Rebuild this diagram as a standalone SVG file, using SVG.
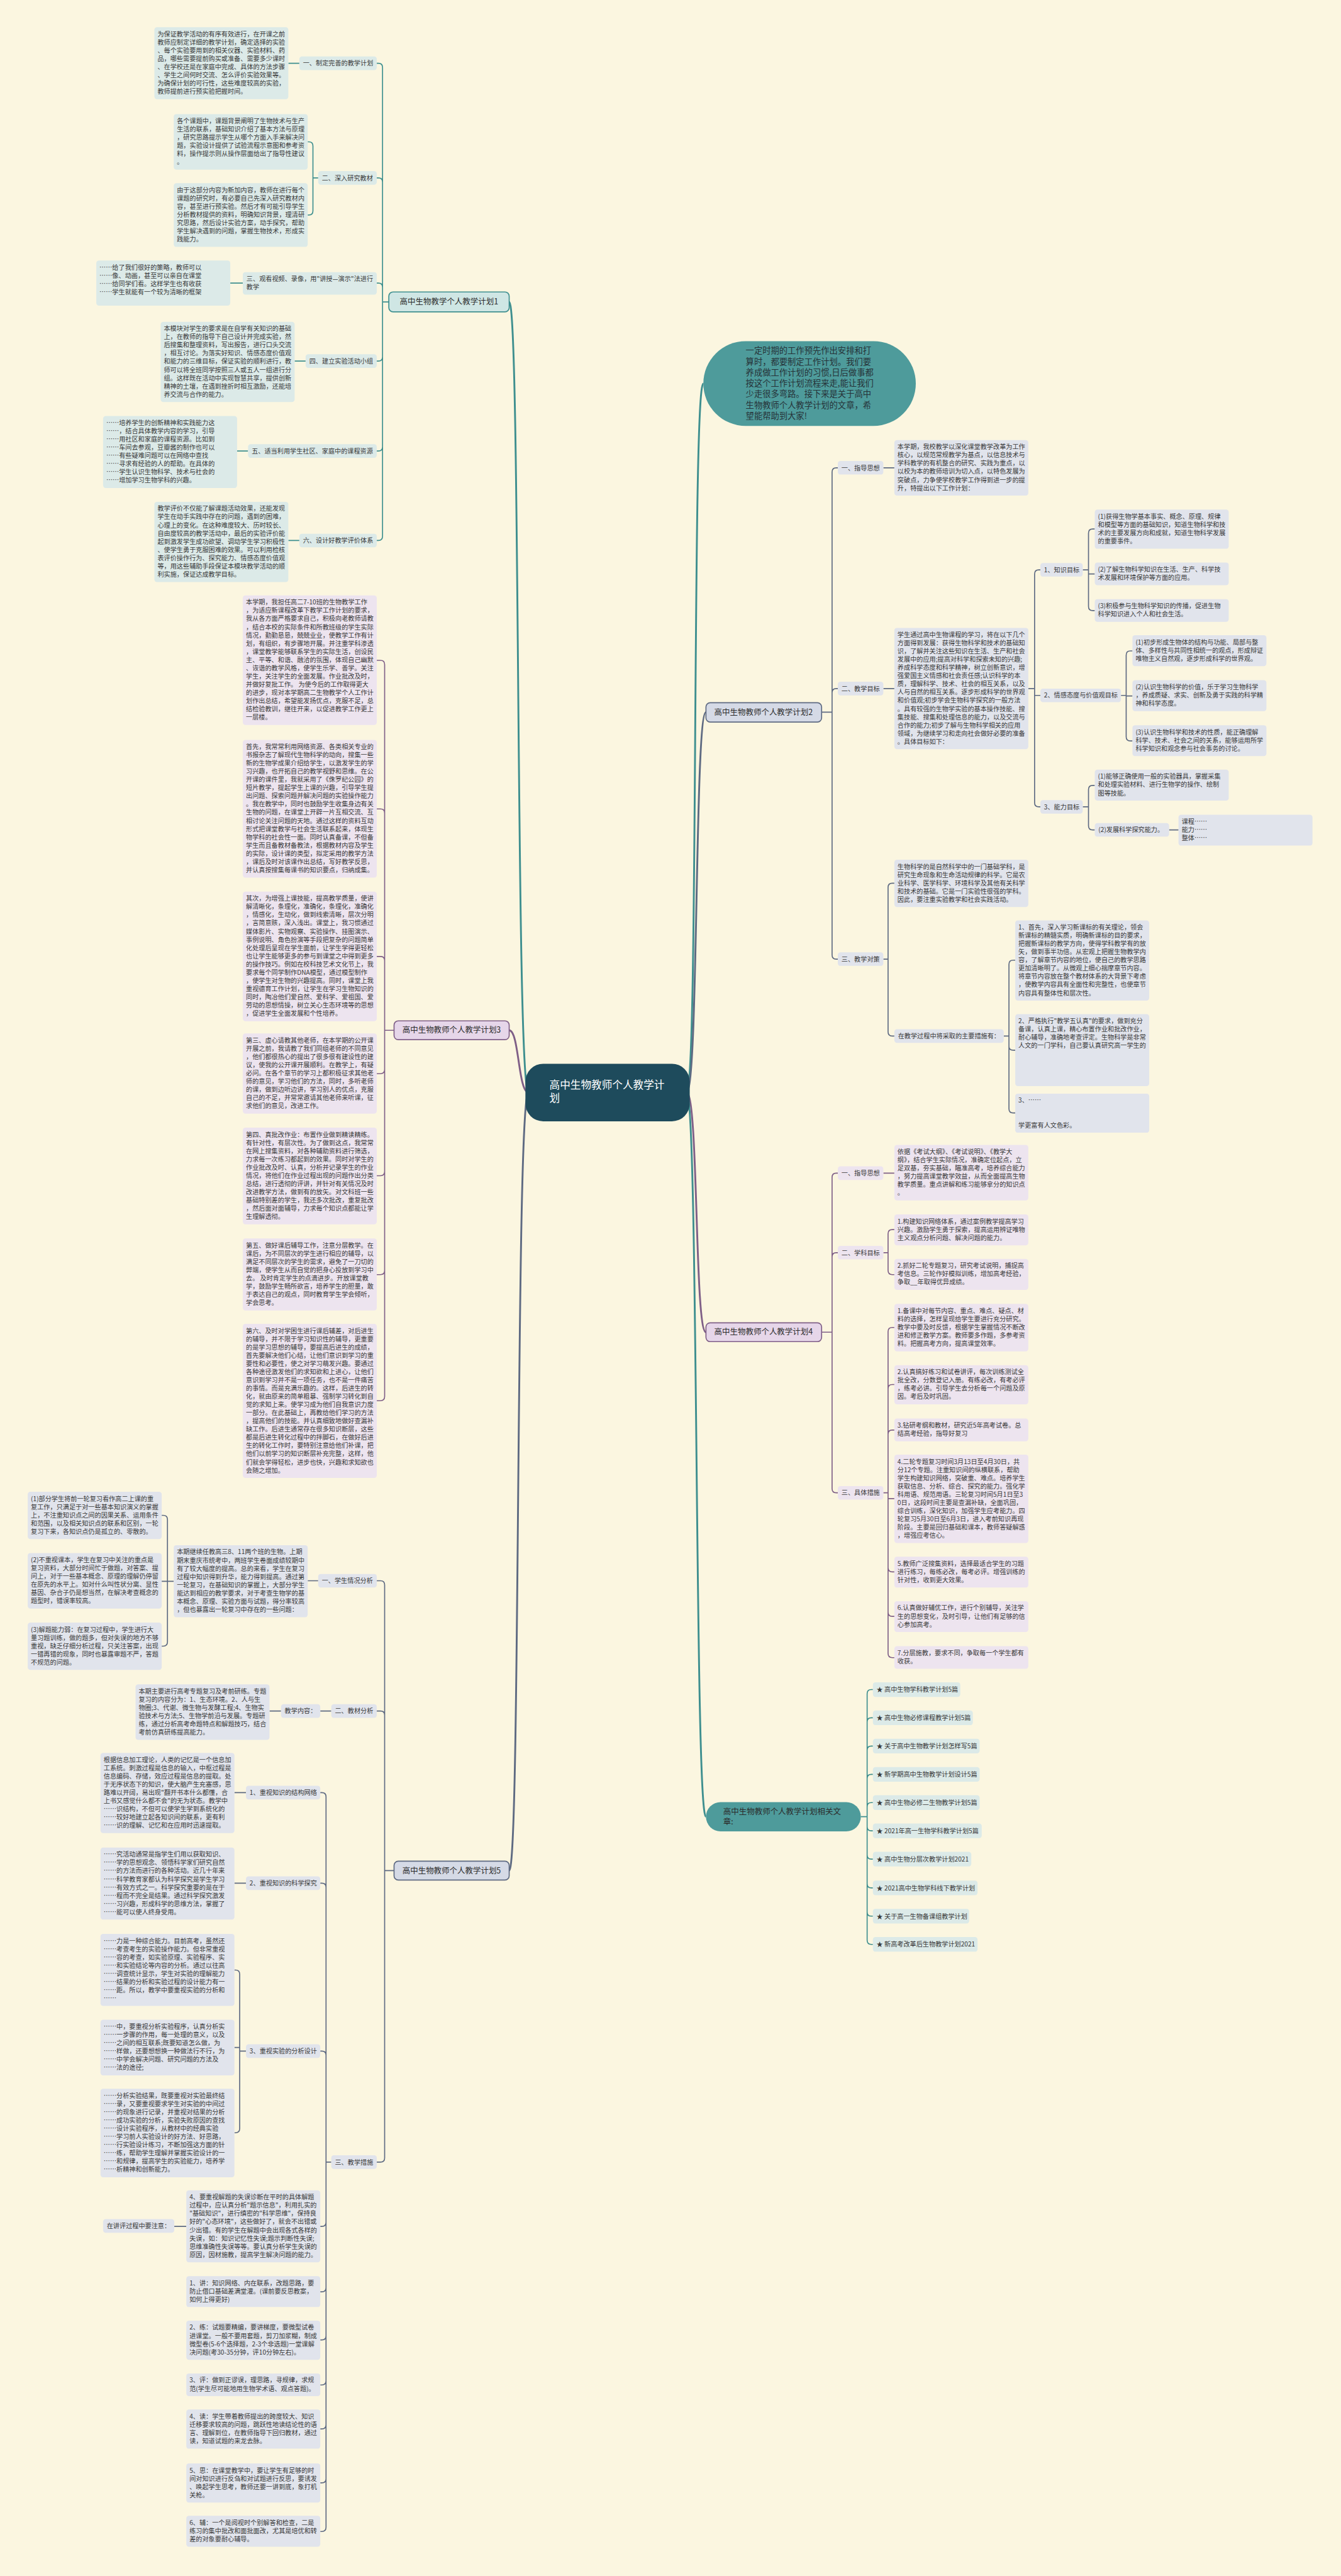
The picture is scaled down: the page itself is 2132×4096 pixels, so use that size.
<svg xmlns="http://www.w3.org/2000/svg" width="2132" height="4096" viewBox="0 0 2132 4096">
<style>
.t{font-family:"Noto Sans CJK SC","Liberation Sans",sans-serif;font-size:12.2px;fill:#383838}
.n{font-family:"Noto Sans CJK SC","Liberation Sans",sans-serif;font-size:15px;fill:#2c2c2c}
.bt{fill:#DCEAE8}.bs{fill:#E1E4EC}.bp{fill:#EDE4EF}
.ct{fill:none;stroke:#3E8F8F;stroke-width:2}
.cs{fill:none;stroke:#5E6A82;stroke-width:2}
.cp{fill:none;stroke:#7F5F87;stroke-width:2}
.m{stroke-width:3.5}
</style>
<rect width="2132" height="4096" fill="#FBF6E0"/>
<g transform="scale(0.832)">
<g id="connectors">
<path class="ct m" d="M1010 2088 C985 2088 995 577 973 577"/>
<path class="cp m" d="M1010 2088 C990 2088 992 1969 973 1969"/>
<path class="cs m" d="M1010 2088 C985 2088 995 3575 973 3575"/>
<path class="ct m" d="M1312 2088 C1335 2088 1322 733 1344 733"/>
<path class="cs m" d="M1312 2088 C1335 2088 1327 1361 1349 1361"/>
<path class="cp m" d="M1312 2088 C1335 2088 1327 2546 1349 2546"/>
<path class="ct m" d="M1312 2088 C1335 2088 1327 3472 1349 3472"/>
<path class="ct" d="M743 577H731V129Q731 121 723 121H720M731 577V348Q731 340 723 340H720M731 577V549Q731 541 723 541H720M731 577V682Q731 690 723 690H720M731 577V854Q731 862 723 862H720M731 577V1025Q731 1033 723 1033H720"/>
<path class="ct" d="M572 121H551M608 340H598V279Q598 271 590 271H588M598 340V403Q598 411 590 411H588M464 541H440M584 690H563M474 862H453M572 1033H551"/>
<path class="cp" d="M753 1969H735V1270Q735 1262 727 1262H720M735 1969V1554Q735 1546 727 1546H720M735 1969V1836Q735 1828 727 1828H720M735 1969V2044Q735 2052 727 2052H720M735 1969V2239Q735 2247 727 2247H720M735 1969V2428Q735 2436 727 2436H720M735 1969V2669Q735 2677 727 2677H720"/>
<path class="cs" d="M753 3575H735V3029Q735 3021 727 3021H720M735 3575V3278Q735 3270 727 3270H720M735 3575V4124Q735 4132 727 4132H720"/>
<path class="cs" d="M608 3021H588M332 3022H320V2904Q320 2896 312 2896H309M320 3022H309M320 3022V3138Q320 3146 312 3146H309M633 3270H612M537 3270H515"/>
<path class="cs" d="M633 4132H623V3434Q623 3426 615 3426H612M623 4132V3607Q623 3599 615 3599H612M623 4132V3928Q623 3920 615 3920H612M623 4132V4247Q623 4255 615 4255H612M623 4132V4372Q623 4380 615 4380H612M623 4132V4464Q623 4472 615 4472H612M623 4132V4550Q623 4558 615 4558H612M623 4132V4634Q623 4642 615 4642H612M623 4132V4737Q623 4745 615 4745H612M623 4132V4830Q623 4838 615 4838H612"/>
<path class="cs" d="M470 3426H448M470 3599H448M470 3920H458V3773Q458 3765 450 3765H448M458 3920V3913H448M458 3920V4068Q458 4076 450 4076H448M356 4255H333"/>
<path class="cs" d="M1570 1361H1590V902Q1590 894 1598 894H1601M1590 1361V1324Q1590 1316 1598 1316H1601M1590 1361V1825Q1590 1833 1598 1833H1601"/>
<path class="cs" d="M1688 894H1709M1688 1316H1709M1965 1316H1977V1097Q1977 1089 1985 1089H1988M1977 1316V1329H1988M1977 1316V1534Q1977 1542 1985 1542H1988"/>
<path class="cs" d="M2069 1089H2080V1019Q2080 1011 2088 1011H2092M2080 1089V1097H2092M2080 1089V1159Q2080 1167 2088 1167H2092M2142 1329H2152V1252Q2152 1244 2160 1244H2164M2152 1329V1330H2164M2152 1329V1408Q2152 1416 2160 1416H2164M2069 1542H2080V1509Q2080 1501 2088 1501H2092M2080 1542V1578Q2080 1586 2088 1586H2092M2234 1586H2252"/>
<path class="cs" d="M1688 1833H1697V1696Q1697 1688 1705 1688H1709M1697 1833V1972Q1697 1980 1705 1980H1709M1918 1980H1928V1843Q1928 1835 1936 1835H1940M1928 1980V2000Q1928 2007 1936 2007H1940M1928 1980V2119Q1928 2127 1936 2127H1940"/>
<path class="cp" d="M1570 2546H1590V2250Q1590 2242 1598 2242H1601M1590 2546V2402Q1590 2394 1598 2394H1601M1590 2546V2845Q1590 2853 1598 2853H1601"/>
<path class="cp" d="M1688 2242H1709M1688 2394H1697V2358Q1697 2350 1705 2350H1709M1697 2394V2428Q1697 2436 1705 2436H1709M1688 2853H1697V2545Q1697 2537 1705 2537H1709M1697 2853V2654Q1697 2646 1705 2646H1709M1697 2853V2741Q1697 2733 1705 2733H1709M1697 2853V2864H1709M1697 2853V2996Q1697 3004 1705 3004H1709M1697 2853V3081Q1697 3089 1705 3089H1709M1697 2853V3160Q1697 3168 1705 3168H1709"/>
<path class="ct" d="M1645 3472H1657V3237Q1657 3229 1665 3229H1668M1657 3472V3291Q1657 3283 1665 3283H1668M1657 3472V3345Q1657 3337 1665 3337H1668M1657 3472V3399Q1657 3391 1665 3391H1668M1657 3472V3453Q1657 3445 1665 3445H1668M1657 3472V3491Q1657 3499 1665 3499H1668M1657 3472V3545Q1657 3553 1665 3553H1668M1657 3472V3600Q1657 3608 1665 3608H1668M1657 3472V3654Q1657 3662 1665 3662H1668M1657 3472V3708Q1657 3716 1665 3716H1668"/>
</g>

<g id="center">
<rect x="1004" y="2033" width="314" height="110" rx="34" fill="#1E4B5C"/>
<text font-family="Noto Sans CJK SC,Liberation Sans,sans-serif" font-size="20" fill="#ffffff" x="1050" y="2080">高中生物教师个人教学计<tspan x="1050" dy="26">划</tspan></text>
</g>

<g id="intro">
<rect x="1344" y="652" width="406" height="162" rx="81" fill="#4E9B9B"/>
<text font-family="Noto Sans CJK SC,Liberation Sans,sans-serif" font-size="16" fill="#263238" y="676"><tspan x="1425">一定时期的工作预先作出安排和打</tspan><tspan x="1425" dy="20.7">算时，都要制定工作计划。我们要</tspan><tspan x="1425" dy="20.7">养成做工作计划的习惯,日后做事都</tspan><tspan x="1425" dy="20.7">按这个工作计划流程来走,能让我们</tspan><tspan x="1425" dy="20.7">少走很多弯路。接下来是关于高中</tspan><tspan x="1425" dy="20.7">生物教师个人教学计划的文章，希</tspan><tspan x="1425" dy="20.7">望能帮助到大家!</tspan></text>
</g>

<g id="plan1">
<rect x="743" y="558" width="230" height="38" rx="8" fill="#CFE6E4" stroke="#3E8F8F" stroke-width="2"/>
<text class="n" x="858" y="582" text-anchor="middle">高中生物教学个人教学计划1</text>
<rect class="bt" x="572" y="108" width="148" height="26" rx="5"/><text class="t" x="579" y="125.5">一、制定完善的教学计划</text>
<rect class="bt" x="295" y="52" width="256" height="137.6" rx="5"/>
<text class="t" y="69.5"><tspan x="301">为保证教学活动的有序有效进行，在开课之前</tspan><tspan x="301" dy="15.7">教师应制定详细的教学计划，确定选择的实验</tspan><tspan x="301" dy="15.7">、每个实验要用到的相关仪器、实验材料、药</tspan><tspan x="301" dy="15.7">品，哪些需要提前购买或准备、需要多少课时</tspan><tspan x="301" dy="15.7">、在学校还是在家庭中完成、具体的方法步骤</tspan><tspan x="301" dy="15.7">、学生之间何时交流、怎么评价实验效果等。</tspan><tspan x="301" dy="15.7">为确保计划的可行性，这些难度较高的实验，</tspan><tspan x="301" dy="15.7">教师提前进行预实验把握时间。</tspan></text>
<rect class="bt" x="608" y="327" width="112" height="26" rx="5"/><text class="t" x="615" y="344.5">二、深入研究教材</text>
<rect class="bt" x="332" y="218" width="256" height="106.2" rx="5"/>
<text class="t" y="235.5"><tspan x="338">各个课题中，课题背景阐明了生物技术与生产</tspan><tspan x="338" dy="15.7">生活的联系，基础知识介绍了基本方法与原理</tspan><tspan x="338" dy="15.7">，研究思路提示学生从哪个方面入手来解决问</tspan><tspan x="338" dy="15.7">题，实验设计提供了试验流程示意图和参考资</tspan><tspan x="338" dy="15.7">料，操作提示则从操作层面给出了指导性建议</tspan><tspan x="338" dy="15.7">。</tspan></text>
<rect class="bt" x="332" y="350" width="256" height="121.9" rx="5"/>
<text class="t" y="367.5"><tspan x="338">由于这部分内容为新加内容，教师在进行每个</tspan><tspan x="338" dy="15.7">课题的研究时，有必要自己先深入研究教材内</tspan><tspan x="338" dy="15.7">容，甚至进行预实验。然后才有可能引导学生</tspan><tspan x="338" dy="15.7">分析教材提供的资料，明确知识背景，理清研</tspan><tspan x="338" dy="15.7">究思路，然后设计实验方案，动手探究，帮助</tspan><tspan x="338" dy="15.7">学生解决遇到的问题，掌握生物技术，形成实</tspan><tspan x="338" dy="15.7">践能力。</tspan></text>
<rect class="bt" x="464" y="520" width="256" height="43" rx="5"/><text class="t" y="537"><tspan x="471">三、观看视频、录像，用"讲授—演示"法进行</tspan><tspan x="471" dy="15.7">教学</tspan></text>
<rect class="bt" x="184" y="498" width="256" height="86" rx="5"/>
<text class="t" y="515.5"><tspan x="190">……给了我们很好的策略，教师可以</tspan><tspan x="190" dy="15.7">……像、动画，甚至可以亲自在课堂</tspan><tspan x="190" dy="15.7">……给同学们看。这样学生也有收获</tspan><tspan x="190" dy="15.7">……学生就能有一个较为清晰的框架</tspan></text>
<rect class="bt" x="584" y="677" width="136" height="26" rx="5"/><text class="t" x="591" y="694.5">四、建立实验活动小组</text>
<rect class="bt" x="307" y="615" width="256" height="153.3" rx="5"/>
<text class="t" y="632.5"><tspan x="313">本模块对学生的要求是在自学有关知识的基础</tspan><tspan x="313" dy="15.7">上，在教师的指导下自己设计并完成实验，然</tspan><tspan x="313" dy="15.7">后搜集和整理资料，写出报告，进行口头交流</tspan><tspan x="313" dy="15.7">，相互讨论。为落实好知识、情感态度价值观</tspan><tspan x="313" dy="15.7">和能力的三维目标，保证实验的顺利进行，教</tspan><tspan x="313" dy="15.7">师可以将全班同学按照三人或五人一组进行分</tspan><tspan x="313" dy="15.7">组。这样既在活动中实现智慧共享，提供创新</tspan><tspan x="313" dy="15.7">精神的土壤，在遇到挫折时相互激励，还能培</tspan><tspan x="313" dy="15.7">养交流与合作的能力。</tspan></text>
<rect class="bt" x="474" y="849" width="246" height="26" rx="5"/><text class="t" x="481" y="866.5">五、适当利用学生社区、家庭中的课程资源</text>
<rect class="bt" x="197" y="795" width="256" height="137.6" rx="5"/>
<text class="t" y="812.5"><tspan x="203">……培养学生的创新精神和实践能力这</tspan><tspan x="203" dy="15.7">……，结合具体教学内容的学习，引导</tspan><tspan x="203" dy="15.7">……用社区和家庭的课程资源。比如到</tspan><tspan x="203" dy="15.7">……车间去参观，豆瓣酱的制作也可以</tspan><tspan x="203" dy="15.7">……有些疑难问题可以在网络中查找</tspan><tspan x="203" dy="15.7">……寻求有经验的人的帮助。在具体的</tspan><tspan x="203" dy="15.7">……学生认识生物科学、技术与社会的</tspan><tspan x="203" dy="15.7">……增加学习生物学科的兴趣。</tspan></text>
<rect class="bt" x="572" y="1020" width="148" height="26" rx="5"/><text class="t" x="579" y="1037.5">六、设计好教学评价体系</text>
<rect class="bt" x="295" y="959" width="256" height="153.3" rx="5"/>
<text class="t" y="976.5"><tspan x="301">教学评价不仅能了解课题活动效果，还能发现</tspan><tspan x="301" dy="15.7">学生在动手实践中存在的问题，遇到的困难，</tspan><tspan x="301" dy="15.7">心理上的变化。在这种难度较大、历时较长、</tspan><tspan x="301" dy="15.7">自由度较高的教学活动中，最后的实验评价能</tspan><tspan x="301" dy="15.7">起到激发学生成功欲望、调动学生学习积极性</tspan><tspan x="301" dy="15.7">、使学生勇于克服困难的效果。可以利用检核</tspan><tspan x="301" dy="15.7">表评价操作行为、探究能力、情感态度价值观</tspan><tspan x="301" dy="15.7">等，用这些辅助手段保证本模块教学活动的顺</tspan><tspan x="301" dy="15.7">利实施，保证达成教学目标。</tspan></text>
</g>

<g id="plan3">
<rect x="753" y="1951" width="220" height="36" rx="8" fill="#E6D6E9" stroke="#7F5F87" stroke-width="2"/>
<text class="n" x="863" y="1974" text-anchor="middle">高中生物教师个人教学计划3</text>
<rect class="bp" x="464" y="1138" width="256" height="247.5" rx="5"/>
<text class="t" y="1155.5"><tspan x="470">本学期，我担任高二7-10班的生物教学工作</tspan><tspan x="470" dy="15.7">，为适应新课程改革下教学工作计划的要求，</tspan><tspan x="470" dy="15.7">我从各方面严格要求自己，积极向老教师请教</tspan><tspan x="470" dy="15.7">，结合本校的实际条件和所教班级的学生实际</tspan><tspan x="470" dy="15.7">情况，勤勤恳恳，兢兢业业，使教学工作有计</tspan><tspan x="470" dy="15.7">划，有组织，有步骤地开展。并注重学科渗透</tspan><tspan x="470" dy="15.7">，课堂教学能够联系学生的实际生活，创设民</tspan><tspan x="470" dy="15.7">主、平等、和谐、融洽的氛围，体现自己幽默</tspan><tspan x="470" dy="15.7">、诙谐的教学风格，使学生乐学、善学。关注</tspan><tspan x="470" dy="15.7">学生，关注学生的全面发展。作业批改及时，</tspan><tspan x="470" dy="15.7">并做好复批工作。 为使今后的工作取得更大</tspan><tspan x="470" dy="15.7">的进步，现对本学期高二生物教学个人工作计</tspan><tspan x="470" dy="15.7">划作出总结，希望能发扬优点，克服不足，总</tspan><tspan x="470" dy="15.7">结检验教训，继往开来，以促进教学工作更上</tspan><tspan x="470" dy="15.7">一层楼。</tspan></text>
<rect class="bp" x="464" y="1414" width="256" height="263.2" rx="5"/>
<text class="t" y="1431.5"><tspan x="470">首先，我常常利用网络资源、各类相关专业的</tspan><tspan x="470" dy="15.7">书报杂志了解现代生物科学的动向，搜集一些</tspan><tspan x="470" dy="15.7">新的生物学成果介绍给学生，以激发学生的学</tspan><tspan x="470" dy="15.7">习兴趣，也开拓自己的教学视野和思维。在公</tspan><tspan x="470" dy="15.7">开课的课件里，我就采用了《侏罗纪公园》的</tspan><tspan x="470" dy="15.7">短片教学，提起学生上课的兴趣，引导学生提</tspan><tspan x="470" dy="15.7">出问题、探索问题并解决问题的实验操作能力</tspan><tspan x="470" dy="15.7">。我在教学中，同时也鼓励学生收集身边有关</tspan><tspan x="470" dy="15.7">生物的问题，在课堂上开辟一片互相交流、互</tspan><tspan x="470" dy="15.7">相讨论关注问题的天地。通过这样的资料互动</tspan><tspan x="470" dy="15.7">形式把课堂教学与社会生活联系起来，体现生</tspan><tspan x="470" dy="15.7">物学科的社会性一面。同时认真备课，不但备</tspan><tspan x="470" dy="15.7">学生而且备教材备教法，根据教材内容及学生</tspan><tspan x="470" dy="15.7">的实际，设计课的类型，拟定采用的教学方法</tspan><tspan x="470" dy="15.7">，课后及时对该课作出总结，写好教学反思，</tspan><tspan x="470" dy="15.7">并认真按搜集每课书的知识要点，归纳成集。</tspan></text>
<rect class="bp" x="464" y="1704" width="256" height="247.5" rx="5"/>
<text class="t" y="1721.5"><tspan x="470">其次，为增强上课技能，提高教学质量，使讲</tspan><tspan x="470" dy="15.7">解清晰化，条理化，准确化，条理化，准确化</tspan><tspan x="470" dy="15.7">，情感化，生动化，做到线索清晰，层次分明</tspan><tspan x="470" dy="15.7">，言简意赅，深入浅出。课堂上，我习惯通过</tspan><tspan x="470" dy="15.7">媒体影片、实物观察、实验操作、挂图演示、</tspan><tspan x="470" dy="15.7">事例说明、角色扮演等手段把复杂的问题简单</tspan><tspan x="470" dy="15.7">化处理后呈现在学生面前，让学生学得更轻松</tspan><tspan x="470" dy="15.7">也让学生能够更多的参与到课堂之中得到更多</tspan><tspan x="470" dy="15.7">的操作技巧。例如在校科技艺术文化节上，我</tspan><tspan x="470" dy="15.7">要求每个同学制作DNA模型，通过模型制作</tspan><tspan x="470" dy="15.7">，使学生对生物的兴趣提高。同时，课堂上我</tspan><tspan x="470" dy="15.7">重视德育工作计划，让学生在学习生物知识的</tspan><tspan x="470" dy="15.7">同时，陶冶他们爱自然、爱科学、爱祖国、爱</tspan><tspan x="470" dy="15.7">劳动的思想情操，树立关心生态环境等的思想</tspan><tspan x="470" dy="15.7">，促进学生全面发展和个性培养。</tspan></text>
<rect class="bp" x="464" y="1975" width="256" height="153.3" rx="5"/>
<text class="t" y="1992.5"><tspan x="470">第三、虚心请教其他老师，在本学期的公开课</tspan><tspan x="470" dy="15.7">开展之前，我请教了我们同组老师的不同意见</tspan><tspan x="470" dy="15.7">，他们都很热心的提出了很多很有建设性的建</tspan><tspan x="470" dy="15.7">议，使我的公开课开展顺利。在教学上，有疑</tspan><tspan x="470" dy="15.7">必问。在各个章节的学习上都积极征求其他老</tspan><tspan x="470" dy="15.7">师的意见，学习他们的方法，同时，多听老师</tspan><tspan x="470" dy="15.7">的课，做到边听边讲，学习别人的优点，克服</tspan><tspan x="470" dy="15.7">自己的不足，并常常邀请其他老师来听课，征</tspan><tspan x="470" dy="15.7">求他们的意见，改进工作。</tspan></text>
<rect class="bp" x="464" y="2155" width="256" height="184.7" rx="5"/>
<text class="t" y="2172.5"><tspan x="470">第四、真批改作业：布置作业做到精读精练。</tspan><tspan x="470" dy="15.7">有针对性，有层次性。为了做到这点，我常常</tspan><tspan x="470" dy="15.7">在网上搜集资料，对各种辅助资料进行筛选，</tspan><tspan x="470" dy="15.7">力求每一次练习都起到的效果。同时对学生的</tspan><tspan x="470" dy="15.7">作业批改及时、认真，分析并记录学生的作业</tspan><tspan x="470" dy="15.7">情况，将他们在作业过程出现的问题作出分类</tspan><tspan x="470" dy="15.7">总结，进行透彻的评讲，并针对有关情况及时</tspan><tspan x="470" dy="15.7">改进教学方法，做到有的放矢。对文科班一些</tspan><tspan x="470" dy="15.7">基础特别差的学生，我还多次批改，重复批改</tspan><tspan x="470" dy="15.7">，然后面对面辅导，力求每个知识点都能让学</tspan><tspan x="470" dy="15.7">生理解透彻。</tspan></text>
<rect class="bp" x="464" y="2367" width="256" height="137.6" rx="5"/>
<text class="t" y="2384.5"><tspan x="470">第五、做好课后辅导工作，注意分层教学。在</tspan><tspan x="470" dy="15.7">课后，为不同层次的学生进行相应的辅导，以</tspan><tspan x="470" dy="15.7">满足不同层次的学生的需求，避免了一刀切的</tspan><tspan x="470" dy="15.7">弊端，使学生从而自觉的把身心投放到学习中</tspan><tspan x="470" dy="15.7">去。 及时肯定学生的点滴进步。开放课堂教</tspan><tspan x="470" dy="15.7">学，鼓励学生畅所欲言，培养学生的胆量，敢</tspan><tspan x="470" dy="15.7">于表达自己的观点，同时教育学生学会倾听，</tspan><tspan x="470" dy="15.7">学会思考。</tspan></text>
<rect class="bp" x="464" y="2530" width="256" height="294.6" rx="5"/>
<text class="t" y="2547.5"><tspan x="470">第六、及时对学困生进行课后辅差，对后进生</tspan><tspan x="470" dy="15.7">的辅导，并不限于学习知识性的辅导，更重要</tspan><tspan x="470" dy="15.7">的是学习思想的辅导，要提高后进生的成绩，</tspan><tspan x="470" dy="15.7">首先要解决他们心结，让他们意识到学习的重</tspan><tspan x="470" dy="15.7">要性和必要性，使之对学习萌发兴趣。要通过</tspan><tspan x="470" dy="15.7">各种途径激发他们的求知欲和上进心，让他们</tspan><tspan x="470" dy="15.7">意识到学习并不是一项任务，也不是一件痛苦</tspan><tspan x="470" dy="15.7">的事情。而是充满乐趣的。这样，后进生的转</tspan><tspan x="470" dy="15.7">化，就由原来的简单粗暴、强制学习转化到自</tspan><tspan x="470" dy="15.7">觉的求知上来。使学习成为他们自我意识力度</tspan><tspan x="470" dy="15.7">一部分。在此基础上，再教给他们学习的方法</tspan><tspan x="470" dy="15.7">，提高他们的技能。并认真细致地做好查漏补</tspan><tspan x="470" dy="15.7">缺工作。后进生通常存在很多知识断层，这些</tspan><tspan x="470" dy="15.7">都是后进生转化过程中的拌脚石，在做好后进</tspan><tspan x="470" dy="15.7">生的转化工作时，要特别注意给他们补课，把</tspan><tspan x="470" dy="15.7">他们以前学习的知识断层补充完整，这样，他</tspan><tspan x="470" dy="15.7">们就会学得轻松，进步也快，兴趣和求知欲也</tspan><tspan x="470" dy="15.7">会随之增加。</tspan></text>
</g>

<g id="plan5">
<rect x="753" y="3557" width="220" height="36" rx="8" fill="#D5DAE6" stroke="#5E6A82" stroke-width="2"/>
<text class="n" x="863" y="3580" text-anchor="middle">高中生物教师个人教学计划5</text>
<rect class="bs" x="608" y="3008" width="112" height="26" rx="5"/><text class="t" x="615" y="3025.5">一、学生情况分析</text>
<rect class="bs" x="332" y="2953" width="256" height="137.6" rx="5"/>
<text class="t" y="2970.5"><tspan x="338">本期继续任教高三8、11两个班的生物。上期</tspan><tspan x="338" dy="15.7">期末重庆市统考中，两班学生卷面成绩较期中</tspan><tspan x="338" dy="15.7">有了较大幅度的提高。总的来看，学生在复习</tspan><tspan x="338" dy="15.7">过程中知识得到升华，能力得到提高。通过第</tspan><tspan x="338" dy="15.7">一轮复习，在基础知识的掌握上，大部分学生</tspan><tspan x="338" dy="15.7">能达到相应的教学要求，对于考查生物学的基</tspan><tspan x="338" dy="15.7">本概念、原理、实验方面与试题，得分率较高</tspan><tspan x="338" dy="15.7">，但也暴露出一轮复习中存在的一些问题：</tspan></text>
<rect class="bs" x="53" y="2851" width="256" height="90.5" rx="5"/>
<text class="t" y="2868.5"><tspan x="59">(1)部分学生将前一轮复习看作高二上课的重</tspan><tspan x="59" dy="15.7">复工作，只满足于对一些基本知识演义的掌握</tspan><tspan x="59" dy="15.7">上，不注重知识点之间的因果关系、运用条件</tspan><tspan x="59" dy="15.7">和范围，以及相关知识点的联系和区别，一轮</tspan><tspan x="59" dy="15.7">复习下来，各知识点仍是孤立的、零散的。</tspan></text>
<rect class="bs" x="53" y="2968" width="256" height="106.2" rx="5"/>
<text class="t" y="2985.5"><tspan x="59">(2)不重视课本，学生在复习中关注的重点是</tspan><tspan x="59" dy="15.7">复习资料，大部分时间忙于做题，对答案、提</tspan><tspan x="59" dy="15.7">问上，对于一些基本概念、原理的理解仍停留</tspan><tspan x="59" dy="15.7">在原先的水平上。如对什么叫性状分离、显性</tspan><tspan x="59" dy="15.7">基因、杂合子仍是想当然，在解决考查概念的</tspan><tspan x="59" dy="15.7">题型时，错误率较高。</tspan></text>
<rect class="bs" x="53" y="3101" width="256" height="90.5" rx="5"/>
<text class="t" y="3118.5"><tspan x="59">(3)解题能力弱：在复习过程中，学生进行大</tspan><tspan x="59" dy="15.7">量习题训练，做的题多，但对失误的地方不够</tspan><tspan x="59" dy="15.7">重视，缺乏仔细分析过程，只关注答案，出现</tspan><tspan x="59" dy="15.7">一错再错的现象，同时也暴露审题不严，答题</tspan><tspan x="59" dy="15.7">不规范的问题。</tspan></text>
<rect class="bs" x="633" y="3257" width="87" height="26" rx="5"/><text class="t" x="640" y="3274.5">二、教材分析</text>
<rect class="bs" x="537" y="3257" width="75" height="26" rx="5"/><text class="t" x="544" y="3274.5">教学内容：</text>
<rect class="bs" x="259" y="3219" width="256" height="106.2" rx="5"/>
<text class="t" y="3236.5"><tspan x="265">本期主要进行高考专题复习及考前研练。专题</tspan><tspan x="265" dy="15.7">复习的内容分为：1、生态环境。2、人与生</tspan><tspan x="265" dy="15.7">物圈;3、代谢、微生物与发酵工程;4、生物实</tspan><tspan x="265" dy="15.7">验技术与方法;5、生物学前沿与发展。专题研</tspan><tspan x="265" dy="15.7">练，通过分析高考命题特点和解题技巧，结合</tspan><tspan x="265" dy="15.7">考前仿真研练提高能力。</tspan></text>
<rect class="bs" x="633" y="4119" width="87" height="26" rx="5"/><text class="t" x="640" y="4136.5">三、教学措施</text>
<rect class="bs" x="470" y="3413" width="142" height="26" rx="5"/><text class="t" x="477" y="3430.5">1、重视知识的结构网络</text>
<rect class="bs" x="192" y="3350" width="256" height="153.3" rx="5"/>
<text class="t" y="3367.5"><tspan x="198">根据信息加工理论，人类的记忆是一个信息加</tspan><tspan x="198" dy="15.7">工系统。刺激过程是信息的输入，中枢过程是</tspan><tspan x="198" dy="15.7">信息编码、存储，效应过程是信息的提取。处</tspan><tspan x="198" dy="15.7">于无序状态下的知识，使大脑产生充塞感，思</tspan><tspan x="198" dy="15.7">路难以开阔，易出现"翻开书本什么都懂，合</tspan><tspan x="198" dy="15.7">上书又感觉什么都不会"的无为状态。教学中</tspan><tspan x="198" dy="15.7">……识结构，不但可以使学生学到系统化的</tspan><tspan x="198" dy="15.7">……较好地建立起各知识间的联系，更有利</tspan><tspan x="198" dy="15.7">……识的理解、记忆和在应用时迅速提取。</tspan></text>
<rect class="bs" x="470" y="3586" width="142" height="26" rx="5"/><text class="t" x="477" y="3603.5">2、重视知识的科学探究</text>
<rect class="bs" x="192" y="3531" width="256" height="137.6" rx="5"/>
<text class="t" y="3548.5"><tspan x="198">……究活动通常是指学生们用以获取知识、</tspan><tspan x="198" dy="15.7">……学的思想观念、领悟科学家们研究自然</tspan><tspan x="198" dy="15.7">……的方法而进行的各种活动。近几十年来</tspan><tspan x="198" dy="15.7">……科学教育家都认为科学探究是学生学习</tspan><tspan x="198" dy="15.7">……有效方式之一。科学探究重要的是在于</tspan><tspan x="198" dy="15.7">……程而不完全是结果。通过科学探究激发</tspan><tspan x="198" dy="15.7">……习兴趣，形成科学的思维方法，掌握了</tspan><tspan x="198" dy="15.7">……能可以使人终身受用。</tspan></text>
<rect class="bs" x="470" y="3907" width="142" height="26" rx="5"/><text class="t" x="477" y="3924.5">3、重视实验的分析设计</text>
<rect class="bs" x="192" y="3696" width="256" height="137.6" rx="5"/>
<text class="t" y="3713.5"><tspan x="198">……力是一种综合能力。目前高考，虽然还</tspan><tspan x="198" dy="15.7">……考查考生的实验操作能力。但非常重视</tspan><tspan x="198" dy="15.7">……容的考查，如实验原理、实验程序、实</tspan><tspan x="198" dy="15.7">……和实验结论等内容的分析。通过以往高</tspan><tspan x="198" dy="15.7">……调查统计显示，学生对实验的理解能力</tspan><tspan x="198" dy="15.7">……结果的分析和实验过程的设计能力有一</tspan><tspan x="198" dy="15.7">……距。所以，教学中要重视实验的分析和</tspan><tspan x="198" dy="15.7">……</tspan></text>
<rect class="bs" x="192" y="3860" width="256" height="106.2" rx="5"/>
<text class="t" y="3877.5"><tspan x="198">……中，要重视分析实验程序，认真分析实</tspan><tspan x="198" dy="15.7">……一步骤的作用，每一处理的意义，以及</tspan><tspan x="198" dy="15.7">……之间的相互联系;既要知道怎么做，为</tspan><tspan x="198" dy="15.7">……样做，还要想想换一种做法行不行，为</tspan><tspan x="198" dy="15.7">……中学会解决问题、研究问题的方法及</tspan><tspan x="198" dy="15.7">……法的途径;</tspan></text>
<rect class="bs" x="192" y="3992" width="256" height="169" rx="5"/>
<text class="t" y="4009.5"><tspan x="198">……分析实验结果，既要重视对实验最终结</tspan><tspan x="198" dy="15.7">……录，又要重视要求学生对实验的中间过</tspan><tspan x="198" dy="15.7">……的现象进行记录，并重视对结果的分析</tspan><tspan x="198" dy="15.7">……成功实验的分析，实验失败原因的查找</tspan><tspan x="198" dy="15.7">……设计实验程序，从教材中的经典实验</tspan><tspan x="198" dy="15.7">……学习前人实验设计的好方法、好思路，</tspan><tspan x="198" dy="15.7">……行实验设计练习，不断加强这方面的针</tspan><tspan x="198" dy="15.7">……练，帮助学生理解并掌握实验设计的一</tspan><tspan x="198" dy="15.7">……和规律，提高学生的实验能力，培养学</tspan><tspan x="198" dy="15.7">……析精神和创新能力。</tspan></text>
<rect class="bs" x="356" y="4186" width="256" height="137.6" rx="5"/>
<text class="t" y="4203.5"><tspan x="362">4、要重视解题的失误诊断在平时的具体解题</tspan><tspan x="362" dy="15.7">过程中，应认真分析"题示信息"，利用扎实的</tspan><tspan x="362" dy="15.7">"基础知识"，进行缜密的"科学思维"，保持良</tspan><tspan x="362" dy="15.7">好的"心态环境"，这些做好了，就会不出错或</tspan><tspan x="362" dy="15.7">少出错。有的学生在解题中会出现各式各样的</tspan><tspan x="362" dy="15.7">失误，如：知识记忆性失误;题示判断性失误;</tspan><tspan x="362" dy="15.7">思维准确性失误等等。要认真分析学生失误的</tspan><tspan x="362" dy="15.7">原因，因材施教，提高学生解决问题的能力。</tspan></text>
<rect class="bs" x="197" y="4241" width="136" height="26" rx="5"/><text class="t" x="204" y="4258.5">在讲评过程中要注意：</text>
<rect class="bs" x="356" y="4350" width="256" height="59.1" rx="5"/>
<text class="t" y="4367.5"><tspan x="362">1、讲：知识网络、内在联系，改题思路，要</tspan><tspan x="362" dy="15.7">防止借口基础差满堂灌。(课前要反思教案，</tspan><tspan x="362" dy="15.7">如何上得更好)</tspan></text>
<rect class="bs" x="356" y="4435" width="256" height="74.8" rx="5"/>
<text class="t" y="4452.5"><tspan x="362">2、练：试题要精编，要讲梯度，要微型试卷</tspan><tspan x="362" dy="15.7">进课堂。一般不要用套题，剪刀加浆糊，制成</tspan><tspan x="362" dy="15.7">微型卷(5-6个选择题，2-3个非选题)一堂课解</tspan><tspan x="362" dy="15.7">决问题(考30-35分钟，评10分钟左右)。</tspan></text>
<rect class="bs" x="356" y="4536" width="256" height="43.4" rx="5"/>
<text class="t" y="4553.5"><tspan x="362">3、评：做到正谬误，理思路，寻规律，求规</tspan><tspan x="362" dy="15.7">范(学生尽可能地用生物学术语、观点答题)。</tspan></text>
<rect class="bs" x="356" y="4605" width="256" height="74.8" rx="5"/>
<text class="t" y="4622.5"><tspan x="362">4、读：学生带着教师提出的跨度较大、知识</tspan><tspan x="362" dy="15.7">迁移要求较高的问题，跳跃性地读结论性的语</tspan><tspan x="362" dy="15.7">言、理解到位，在教师指导下回归教材，通过</tspan><tspan x="362" dy="15.7">读，知道试题的来龙去脉。</tspan></text>
<rect class="bs" x="356" y="4708" width="256" height="74.8" rx="5"/>
<text class="t" y="4725.5"><tspan x="362">5、思：在课堂教学中，要让学生有足够的时</tspan><tspan x="362" dy="15.7">间对知识进行反刍和对试题进行反思，要诱发</tspan><tspan x="362" dy="15.7">、唤起学生思考，教师还要一讲到底，象打机</tspan><tspan x="362" dy="15.7">关枪。</tspan></text>
<rect class="bs" x="356" y="4808" width="256" height="59.1" rx="5"/>
<text class="t" y="4825.5"><tspan x="362">6、辅：一个是阅视时个别解答和检查，二是</tspan><tspan x="362" dy="15.7">练习的集中批改和面批面改，尤其是培优和转</tspan><tspan x="362" dy="15.7">差的对象要耐心辅导。</tspan></text>
</g>

<g id="plan2">
<rect x="1349" y="1343" width="221" height="37" rx="8" fill="#D5DAE6" stroke="#5E6A82" stroke-width="2"/>
<text class="n" x="1459" y="1367" text-anchor="middle">高中生物教师个人教学计划2</text>
<rect class="bs" x="1601" y="881" width="87" height="26" rx="5"/><text class="t" x="1608" y="898.5">一、指导思想</text>
<rect class="bs" x="1709" y="841" width="256" height="106.2" rx="5"/>
<text class="t" y="858.5"><tspan x="1715">本学期，我校教学以深化课堂教学改革为工作</tspan><tspan x="1715" dy="15.7">核心，以规范常规教学为基点，以信息技术与</tspan><tspan x="1715" dy="15.7">学科教学的有机整合的研究、实践为重点，以</tspan><tspan x="1715" dy="15.7">以校为本的教师培训为切入点，以特色发展为</tspan><tspan x="1715" dy="15.7">突破点，力争使学校教学工作得到进一步的提</tspan><tspan x="1715" dy="15.7">升，特提出以下工作计划：</tspan></text>
<rect class="bs" x="1601" y="1303" width="87" height="26" rx="5"/><text class="t" x="1608" y="1320.5">二、教学目标</text>
<rect class="bs" x="1709" y="1200" width="256" height="231.8" rx="5"/>
<text class="t" y="1217.5"><tspan x="1715">学生通过高中生物课程的学习，将在以下几个</tspan><tspan x="1715" dy="15.7">方面得到发展：获得生物科学和技术的基础知</tspan><tspan x="1715" dy="15.7">识，了解并关注这些知识在生活、生产和社会</tspan><tspan x="1715" dy="15.7">发展中的应用;提高对科学和探索未知的兴趣;</tspan><tspan x="1715" dy="15.7">养成科学态度和科学精神，树立创新意识，增</tspan><tspan x="1715" dy="15.7">强爱国主义情感和社会责任感;认识科学的本</tspan><tspan x="1715" dy="15.7">质，理解科学、技术、社会的相互关系，以及</tspan><tspan x="1715" dy="15.7">人与自然的相互关系。逐步形成科学的世界观</tspan><tspan x="1715" dy="15.7">和价值观;初步学会生物科学探究的一般方法</tspan><tspan x="1715" dy="15.7">。具有较强的生物学实验的基本操作技能、搜</tspan><tspan x="1715" dy="15.7">集技能、搜集和处理信息的能力，以及交流与</tspan><tspan x="1715" dy="15.7">合作的能力;初步了解与生物科学相关的应用</tspan><tspan x="1715" dy="15.7">领域，为继续学习和走向社会做好必要的准备</tspan><tspan x="1715" dy="15.7">。具体目标如下：</tspan></text>
<rect class="bs" x="1988" y="1076" width="81" height="26" rx="5"/><text class="t" x="1995" y="1093.5">1、知识目标</text>
<rect class="bs" x="2092" y="974" width="256" height="74.8" rx="5"/>
<text class="t" y="991.5"><tspan x="2098">(1)获得生物学基本事实、概念、原理、规律</tspan><tspan x="2098" dy="15.7">和模型等方面的基础知识，知道生物科学和技</tspan><tspan x="2098" dy="15.7">术的主要发展方向和成就，知道生物科学发展</tspan><tspan x="2098" dy="15.7">的重要事件。</tspan></text>
<rect class="bs" x="2092" y="1075" width="256" height="43.4" rx="5"/>
<text class="t" y="1092.5"><tspan x="2098">(2)了解生物科学知识在生活、生产、科学技</tspan><tspan x="2098" dy="15.7">术发展和环境保护等方面的应用。</tspan></text>
<rect class="bs" x="2092" y="1145" width="256" height="43.4" rx="5"/>
<text class="t" y="1162.5"><tspan x="2098">(3)积极参与生物科学知识的传播，促进生物</tspan><tspan x="2098" dy="15.7">科学知识进入个人和社会生活。</tspan></text>
<rect class="bs" x="1988" y="1316" width="154" height="26" rx="5"/><text class="t" x="1995" y="1333.5">2、情感态度与价值观目标</text>
<rect class="bs" x="2164" y="1214" width="256" height="59.1" rx="5"/>
<text class="t" y="1231.5"><tspan x="2170">(1)初步形成生物体的结构与功能、局部与整</tspan><tspan x="2170" dy="15.7">体、多样性与共同性相统一的观点，形成辩证</tspan><tspan x="2170" dy="15.7">唯物主义自然观，逐步形成科学的世界观。</tspan></text>
<rect class="bs" x="2164" y="1300" width="256" height="59.1" rx="5"/>
<text class="t" y="1317.5"><tspan x="2170">(2)认识生物科学的价值，乐于学习生物科学</tspan><tspan x="2170" dy="15.7">，养成质疑、求实、创新及勇于实践的科学精</tspan><tspan x="2170" dy="15.7">神和科学态度。</tspan></text>
<rect class="bs" x="2164" y="1386" width="256" height="59.1" rx="5"/>
<text class="t" y="1403.5"><tspan x="2170">(3)认识生物科学和技术的性质，能正确理解</tspan><tspan x="2170" dy="15.7">科学、技术、社会之间的关系，能够运用所学</tspan><tspan x="2170" dy="15.7">科学知识和观念参与社会事务的讨论。</tspan></text>
<rect class="bs" x="1988" y="1529" width="81" height="26" rx="5"/><text class="t" x="1995" y="1546.5">3、能力目标</text>
<rect class="bs" x="2092" y="1471" width="256" height="59.1" rx="5"/>
<text class="t" y="1488.5"><tspan x="2098">(1)能够正确使用一般的实验器具，掌握采集</tspan><tspan x="2098" dy="15.7">和处理实验材料、进行生物学的操作、绘制</tspan><tspan x="2098" dy="15.7">图等技能。</tspan></text>
<rect class="bs" x="2092" y="1573" width="142" height="26" rx="5"/><text class="t" x="2099" y="1590.5">(2)发展科学探究能力。</text>
<rect class="bs" x="2252" y="1557" width="256" height="59.1" rx="5"/>
<text class="t" y="1574.5"><tspan x="2258">课程……</tspan><tspan x="2258" dy="15.7">能力……</tspan><tspan x="2258" dy="15.7">整体……</tspan></text>
<rect class="bs" x="1601" y="1820" width="87" height="26" rx="5"/><text class="t" x="1608" y="1837.5">三、教学对策</text>
<rect class="bs" x="1709" y="1643" width="256" height="90.5" rx="5"/>
<text class="t" y="1660.5"><tspan x="1715">生物科学的是自然科学中的一门基础学科，是</tspan><tspan x="1715" dy="15.7">研究生命现象和生命活动规律的科学。它是农</tspan><tspan x="1715" dy="15.7">业科学、医学科学、环境科学及其他有关科学</tspan><tspan x="1715" dy="15.7">和技术的基础。它是一门实验性很强的学科。</tspan><tspan x="1715" dy="15.7">因此，要注重实验教学和社会实践活动。</tspan></text>
<rect class="bs" x="1709" y="1967" width="209" height="26" rx="5"/><text class="t" x="1716" y="1984.5">在教学过程中将采取的主要措施有：</text>
<rect class="bs" x="1940" y="1759" width="256" height="153.3" rx="5"/>
<text class="t" y="1776.5"><tspan x="1946">1、首先，深入学习新课标的有关理论，领会</tspan><tspan x="1946" dy="15.7">新课标的精髓实质，明确新课标的目的要求，</tspan><tspan x="1946" dy="15.7">把握新课标的教学方向，使得学科教学有的放</tspan><tspan x="1946" dy="15.7">矢，做到事半功倍。从宏观上把握生物教学内</tspan><tspan x="1946" dy="15.7">容，了解章节内容的地位，使自己的教学思路</tspan><tspan x="1946" dy="15.7">更加清晰明了。从微观上细心揣摩章节内容。</tspan><tspan x="1946" dy="15.7">将章节内容放在整个教材体系的大背景下考虑</tspan><tspan x="1946" dy="15.7">，使教学内容具有全面性和完整性，也使章节</tspan><tspan x="1946" dy="15.7">内容具有整体性和层次性。</tspan></text>
<rect class="bs" x="1940" y="1938" width="256" height="137.6" rx="5"/>
<text class="t" y="1955.5"><tspan x="1946">2、严格执行"教学五认真"的要求，做到充分</tspan><tspan x="1946" dy="15.7">备课，认真上课，精心布置作业和批改作业，</tspan><tspan x="1946" dy="15.7">耐心辅导，准确地考查评定。生物科学是非常</tspan><tspan x="1946" dy="15.7">人文的一门学科，自己要认真研究高一学生的</tspan></text>
<rect class="bs" x="1940" y="2090" width="256" height="74.8" rx="5"/>
<text class="t" y="2107.5"><tspan x="1946">3、……</tspan><tspan x="1946" dy="47.1">学更富有人文色彩。</tspan></text>
</g>

<g id="plan4">
<rect x="1349" y="2528" width="221" height="36" rx="8" fill="#E6D6E9" stroke="#7F5F87" stroke-width="2"/>
<text class="n" x="1459" y="2551" text-anchor="middle">高中生物教师个人教学计划4</text>
<rect class="bp" x="1601" y="2229" width="87" height="26" rx="5"/><text class="t" x="1608" y="2246.5">一、指导思想</text>
<rect class="bp" x="1709" y="2188" width="256" height="106.2" rx="5"/>
<text class="t" y="2205.5"><tspan x="1715">依据《考试大纲》、《考试说明》、《教学大</tspan><tspan x="1715" dy="15.7">纲》，结合学生实际情况，准确定位起点，立</tspan><tspan x="1715" dy="15.7">足双基，夯实基础，瞄准高考，培养综合能力</tspan><tspan x="1715" dy="15.7">，努力提高课堂教学效益，从而全面提高生物</tspan><tspan x="1715" dy="15.7">教学质量。重点讲解和练习能够拿分的知识点</tspan><tspan x="1715" dy="15.7">。</tspan></text>
<rect class="bp" x="1601" y="2381" width="87" height="26" rx="5"/><text class="t" x="1608" y="2398.5">二、学科目标</text>
<rect class="bp" x="1709" y="2321" width="256" height="59.1" rx="5"/>
<text class="t" y="2338.5"><tspan x="1715">1.构建知识网络体系，通过案例教学提高学习</tspan><tspan x="1715" dy="15.7">兴趣。激励学生勇于探索，提高运用辨证唯物</tspan><tspan x="1715" dy="15.7">主义观点分析问题、解决问题的能力。</tspan></text>
<rect class="bp" x="1709" y="2406" width="256" height="59.1" rx="5"/>
<text class="t" y="2423.5"><tspan x="1715">2.抓好二轮专题复习，研究考试说明，捕捉高</tspan><tspan x="1715" dy="15.7">考信息。三轮作好模拟训练，增加高考经验，</tspan><tspan x="1715" dy="15.7">争取__年取得优异成绩。</tspan></text>
<rect class="bp" x="1601" y="2840" width="87" height="26" rx="5"/><text class="t" x="1608" y="2857.5">三、具体措施</text>
<rect class="bp" x="1709" y="2492" width="256" height="90.5" rx="5"/>
<text class="t" y="2509.5"><tspan x="1715">1.备课中对每节内容、重点、难点、疑点、材</tspan><tspan x="1715" dy="15.7">料的选择，怎样呈现给学生要进行充分研究。</tspan><tspan x="1715" dy="15.7">教学中要及时反馈，根据学生掌握情况不断改</tspan><tspan x="1715" dy="15.7">进和修正教学方案。教师要多作题，多参考资</tspan><tspan x="1715" dy="15.7">料。把握高考方向，提高课堂效率。</tspan></text>
<rect class="bp" x="1709" y="2609" width="256" height="74.8" rx="5"/>
<text class="t" y="2626.5"><tspan x="1715">2.认真搞好练习和试卷讲评，每次训练测试全</tspan><tspan x="1715" dy="15.7">批全改，分数登记入册。有练必改，有考必评</tspan><tspan x="1715" dy="15.7">，练考必讲。引导学生去分析每一个问题及原</tspan><tspan x="1715" dy="15.7">因。考后及时巩固。</tspan></text>
<rect class="bp" x="1709" y="2711" width="256" height="43.4" rx="5"/>
<text class="t" y="2728.5"><tspan x="1715">3.钻研考纲和教材，研究近5年高考试卷。总</tspan><tspan x="1715" dy="15.7">结高考经验，指导好复习</tspan></text>
<rect class="bp" x="1709" y="2780" width="256" height="169" rx="5"/>
<text class="t" y="2797.5"><tspan x="1715">4.二轮专题复习时间3月13日至4月30日，共</tspan><tspan x="1715" dy="15.7">分12个专题。注重知识间的纵横联系，帮助</tspan><tspan x="1715" dy="15.7">学生构建知识网络，突破重、难点。培养学生</tspan><tspan x="1715" dy="15.7">获取信息、分析、综合、探究的能力。强化学</tspan><tspan x="1715" dy="15.7">科用语、规范用语。三轮复习时间5月1日至3</tspan><tspan x="1715" dy="15.7">0日，这段时间主要是查漏补缺，全面巩固，</tspan><tspan x="1715" dy="15.7">综合训练，深化知识，加强学生应考能力。四</tspan><tspan x="1715" dy="15.7">轮复习5月30日至6月3日，进入考前知识再现</tspan><tspan x="1715" dy="15.7">阶段。主要是回归基础和课本，教师答疑解惑</tspan><tspan x="1715" dy="15.7">，增强应考信心。</tspan></text>
<rect class="bp" x="1709" y="2975" width="256" height="59.1" rx="5"/>
<text class="t" y="2992.5"><tspan x="1715">5.教师广泛搜集资料，选择最适合学生的习题</tspan><tspan x="1715" dy="15.7">进行练习，每练必改，每考必评。增强训练的</tspan><tspan x="1715" dy="15.7">针对性，收到更大效果。</tspan></text>
<rect class="bp" x="1709" y="3060" width="256" height="59.1" rx="5"/>
<text class="t" y="3077.5"><tspan x="1715">6.认真做好辅优工作，进行个别辅导，关注学</tspan><tspan x="1715" dy="15.7">生的思想变化，及时引导，让他们有足够的信</tspan><tspan x="1715" dy="15.7">心参加高考。</tspan></text>
<rect class="bp" x="1709" y="3146" width="256" height="43.4" rx="5"/>
<text class="t" y="3163.5"><tspan x="1715">7.分层施教，要求不同，争取每一个学生都有</tspan><tspan x="1715" dy="15.7">收获。</tspan></text>
</g>

<g id="related">
<rect x="1349" y="3444" width="296" height="56" rx="28" fill="#4E9B9B"/>
<text class="n" y="3467"><tspan x="1382">高中生物教师个人教学计划相关文</tspan><tspan x="1382" dy="20">章:</tspan></text>
<rect class="bt" x="1668" y="3215" width="167" height="28" rx="5"/><text class="t" x="1675" y="3233.5">★ 高中生物学科教学计划5篇</text>
<rect class="bt" x="1668" y="3269" width="191" height="28" rx="5"/><text class="t" x="1675" y="3287.5">★ 高中生物必修课程教学计划5篇</text>
<rect class="bt" x="1668" y="3323" width="204" height="28" rx="5"/><text class="t" x="1675" y="3341.5">★ 关于高中生物教学计划怎样写5篇</text>
<rect class="bt" x="1668" y="3377" width="204" height="28" rx="5"/><text class="t" x="1675" y="3395.5">★ 新学期高中生物教学计划设计5篇</text>
<rect class="bt" x="1668" y="3431" width="204" height="28" rx="5"/><text class="t" x="1675" y="3449.5">★ 高中生物必修二生物教学计划5篇</text>
<rect class="bt" x="1668" y="3485" width="208" height="28" rx="5"/><text class="t" x="1675" y="3503.5">★ 2021年高一生物学科教学计划5篇</text>
<rect class="bt" x="1668" y="3539" width="188" height="28" rx="5"/><text class="t" x="1675" y="3557.5">★ 高中生物分层次教学计划2021</text>
<rect class="bt" x="1668" y="3594" width="200" height="28" rx="5"/><text class="t" x="1675" y="3612.5">★ 2021高中生物学科线下教学计划</text>
<rect class="bt" x="1668" y="3648" width="184" height="28" rx="5"/><text class="t" x="1675" y="3666.5">★ 关于高一生物备课组教学计划</text>
<rect class="bt" x="1668" y="3702" width="200" height="28" rx="5"/><text class="t" x="1675" y="3720.5">★ 新高考改革后生物教学计划2021</text>
</g>
</g>
</svg>
